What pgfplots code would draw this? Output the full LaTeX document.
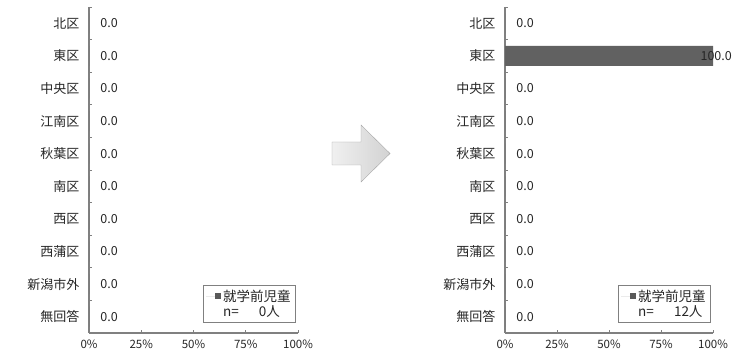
\documentclass[border=0pt]{standalone}
\usepackage{fontspec}
\setmainfont{Noto Sans CJK JP}
\usepackage{pgfplots}
\usepackage{pgfplotstable}
\pgfplotsset{compat=1.18}
\pgfplotstableread{
idx val
0 0
1 0
2 0
3 0
4 0
5 0
6 0
7 0
8 0
9 0
}\leftdata
\pgfplotstableread{
idx val
0 0
1 100
2 0
3 0
4 0
5 0
6 0
7 0
8 0
9 0
}\rightdata
\definecolor{axgray}{HTML}{808080}
\pgfplotsset{
 mystyle/.style={
  xbar, scale only axis, width=208bp, height=326bp,
  xmin=0, xmax=100, ymin=-0.5, ymax=9.5, y dir=reverse,
  axis lines*=left, clip=false,
  axis line style={draw=axgray, line width=1.3bp},
  ytick={0,...,9},
  yticklabels={北区,東区,中央区,江南区,秋葉区,南区,西区,西蒲区,新潟市外,無回答},
  major y tick style={draw=none},
  minor ytick={-0.5,0.5,...,9.5},
  minor y tick style={draw=axgray, line width=0.8bp},
  tick align=inside,
  major tick length=3bp, minor tick length=3bp,
  xtick={0,25,50,75,100},
  xticklabel={\pgfmathprintnumber[assume math mode=true]{\tick}\%},
  major x tick style={draw=axgray, line width=0.8bp},
  x tick label style={font=\fontsize{11.5bp}{12bp}\selectfont, yshift=-3bp, text=black!85},
  y tick label style={font=\fontsize{13bp}{14bp}\selectfont, xshift=-6bp, text=black!85},
  bar width=20bp,
  legend cell align=left,
  legend style={at={(0.99,0.03)}, anchor=south east, draw=axgray, line width=0.8bp,
    font=\fontsize{13.5bp}{15bp}\selectfont, inner xsep=3bp, inner ysep=2.5bp, row sep=-1bp,
    text=black!85},
 },
 barstyle/.style={
  draw=none, fill=black!62,
  visualization depends on={x \as \rawx},
  point meta=x,
  nodes near coords={\pgfmathprintnumber[fixed,fixed zerofill,precision=1,assume math mode=true]{\pgfplotspointmeta}},
  nodes near coords style={font=\fontsize{12.5bp}{14bp}\selectfont, text=black!85, anchor=west, xshift={8-0.24*\rawx}},
  legend image code/.code={\path (0bp,0bp) -- (9bp,0bp); \fill[black!65] (9bp,-3bp) rectangle (15bp,3bp);},
 },
}
\begin{document}
\begin{tikzpicture}
\useasboundingbox (0,0) rectangle (742bp,356bp);
% arrow
\draw[draw=gray!70, left color=gray!12, right color=gray!35]
 (332bp,214bp) -- (361bp,214bp) -- (361bp,231bp) -- (390bp,202.5bp) -- (361bp,174bp) -- (361bp,191bp) -- (332bp,191bp) -- cycle;
\begin{axis}[mystyle, at={(89bp,23bp)}, anchor=south west, width=209bp]
\addplot[barstyle] table[x=val, y=idx] {\leftdata};
\addlegendentry{就学前児童}
\addlegendimage{empty legend}
\addlegendentry{n=\hspace{1.5em}0人}
\end{axis}
\begin{axis}[mystyle, at={(505bp,23bp)}, anchor=south west, width=208bp]
\addplot[barstyle] table[x=val, y=idx] {\rightdata};
\addlegendentry{就学前児童}
\addlegendimage{empty legend}
\addlegendentry{n=\hspace{1.5em}12人}
\end{axis}
\end{tikzpicture}
\end{document}
